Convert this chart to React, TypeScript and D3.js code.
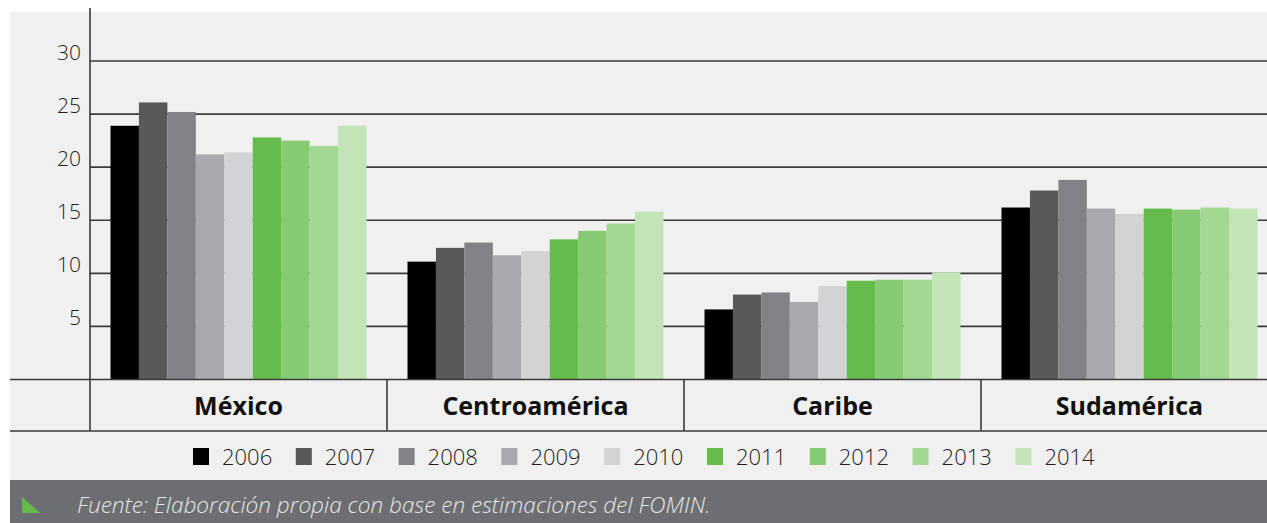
import React from 'react';
import * as d3 from 'd3';

const categories = ['México', 'Centroamérica', 'Caribe', 'Sudamérica'];
const years = ['2006', '2007', '2008', '2009', '2010', '2011', '2012', '2013', '2014'];
const colors = ['#000000', '#58595b', '#808285', '#a7a9ac', '#d1d3d4', '#66bb4d', '#86cb72', '#a3d893', '#c2e4b6'];

// valores por región, un valor por año (2006-2014)
const mexico = [23.9, 26.1, 25.2, 21.2, 21.4, 22.8, 22.5, 22.0, 23.9];
const centroamerica = [11.1, 12.4, 12.9, 11.7, 12.1, 13.2, 14.0, 14.7, 15.8];
const caribe = [6.6, 8.0, 8.2, 7.3, 8.8, 9.3, 9.4, 9.4, 10.1];
const sudamerica = [16.2, 17.8, 18.8, 16.1, 15.6, 16.1, 16.0, 16.2, 16.1];
const regionValues = [mexico, centroamerica, caribe, sudamerica];

const yTicks = [5, 10, 15, 20, 25, 30];
const source = 'Fuente: Elaboración propia con base en estimaciones del FOMIN.';

const W = 1267;
const H = 523;
const font = '"Open Sans", "Noto Sans", sans-serif';

const App = () => {
  const x0 = d3.scaleBand<string>().domain(categories).range([90, 90 + 4 * 297]).padding(0);
  const x1 = d3.scaleBand<string>().domain(years).range([20.5, 297 - 20.5]).padding(0);
  const y = d3.scaleLinear().domain([0, 30]).range([379.5, 61]);
  const legendX = d3.scaleBand<string>().domain(years).range([193, 193 + 9 * 102.8]);

  return (
    <svg width={W} height={H} style={{ position: 'absolute', left: 0, top: 0 }} fontFamily={font}>
      <rect x={0} y={0} width={W} height={H} fill="#ffffff" />
      <rect x={10} y={12} width={W - 10} height={468} fill="#f0f0f0" />

      {/* rejilla */}
      {yTicks.map(t => (
        <line key={t} x1={90} x2={W} y1={y(t)} y2={y(t)} stroke="#3a3a3a" strokeWidth={1.6} />
      ))}
      {yTicks.map(t => (
        <text key={'l' + t} x={81} y={y(t) - 1} textAnchor="end" fontSize={21} fontWeight={300} fill="#231f20">
          {t}
        </text>
      ))}

      {/* barras */}
      {categories.map((c, ci) => (
        <g key={c} transform={`translate(${x0(c)},0)`}>
          {regionValues[ci].map((v, i) => (
            <rect
              key={years[i]}
              x={x1(years[i])}
              y={y(v)}
              width={x1.bandwidth()}
              height={y(0) - y(v)}
              fill={colors[i]}
            />
          ))}
        </g>
      ))}

      {/* eje y caja de categorías */}
      <line x1={10} x2={W} y1={379.5} y2={379.5} stroke="#3a3a3a" strokeWidth={1.6} />
      <line x1={10} x2={W} y1={431} y2={431} stroke="#3a3a3a" strokeWidth={1.6} />
      <line x1={90} x2={90} y1={8} y2={431} stroke="#3a3a3a" strokeWidth={1.6} />
      {categories.slice(1).map(c => (
        <line key={c} x1={x0(c)} x2={x0(c)} y1={379.5} y2={431} stroke="#3a3a3a" strokeWidth={1.6} />
      ))}
      {categories.map(c => (
        <text key={c} x={(x0(c) as number) + x0.bandwidth() / 2} y={415} textAnchor="middle" fontSize={25} fontWeight={700} fill="#111">
          {c}
        </text>
      ))}

      {/* leyenda */}
      {years.map((yr, i) => (
        <g key={yr} transform={`translate(${legendX(yr)},0)`}>
          <rect x={0} y={448} width={16} height={17} fill={colors[i]} />
          <text x={29} y={465} fontSize={22} fontWeight={300} fill="#231f20">
            {yr}
          </text>
        </g>
      ))}

      {/* fuente */}
      <rect x={10} y={480} width={W - 10} height={H - 480} fill="#6d6e71" />
      <path d="M22,497 L22,513 L40,513 Z" fill="#66bb4d" />
      <text x={77} y={513} fontSize={22.6} fontStyle="italic" fontWeight={300} fill="#e6e7e8">
        {source}
      </text>
    </svg>
  );
};

export default App;
